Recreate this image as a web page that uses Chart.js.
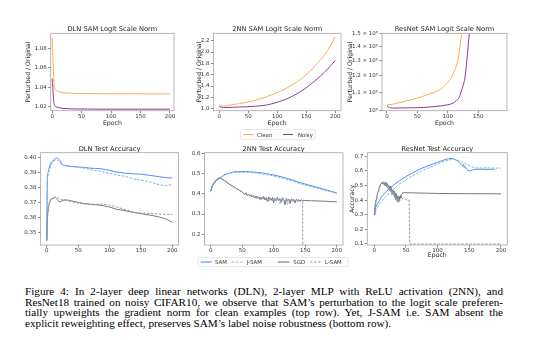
<!DOCTYPE html>
<html><head><meta charset="utf-8">
<script src="https://cdn.jsdelivr.net/npm/chart.js@4.4.1/dist/chart.umd.min.js"></script>
<style>
body{margin:0;width:540px;height:340px;background:#fff;position:relative;overflow:hidden;font-family:"DejaVu Sans",sans-serif;}
#cap{position:absolute;left:25px;top:286px;width:478px;font-family:"Liberation Serif","Times New Roman",serif;font-size:11.2px;line-height:10.5px;color:#000}
.ln{white-space:nowrap;text-align:justify;text-align-last:justify}
.ln.last{text-align-last:left}
svg text{font-family:"DejaVu Sans",sans-serif;font-size:5.4px;fill:#333;dominant-baseline:central}
</style></head><body>
<svg id="leg" style="position:absolute;left:0;top:0;z-index:2" width="540" height="340">
 <rect x="240.5" y="129.5" width="74.5" height="10" rx="1.5" fill="#fff" stroke="#dadada" stroke-width="0.6"/>
 <line x1="243.5" x2="253.5" y1="134.5" y2="134.5" stroke="#f6b24f" stroke-width="1.1"/>
 <text x="257" y="134.5">Clean</text>
 <line x1="283" x2="293" y1="134.5" y2="134.5" stroke="#8e3a9b" stroke-width="1.1"/>
 <text x="298" y="134.5">Noisy</text>
 <rect x="198" y="257.5" width="150" height="9" rx="1.5" fill="#fff" stroke="#dadada" stroke-width="0.6"/>
 <line x1="200.7" x2="211.7" y1="262" y2="262" stroke="#4f8ff0" stroke-width="1.1"/>
 <text x="215" y="262">SAM</text>
 <line x1="231.7" x2="243.3" y1="262" y2="262" stroke="#7fb0f5" stroke-width="1.1" stroke-dasharray="2.5 1.5"/>
 <text x="246.7" y="262">J-SAM</text>
 <line x1="277.7" x2="289.3" y1="262" y2="262" stroke="#6b7785" stroke-width="1.1"/>
 <text x="293.3" y="262">SGD</text>
 <line x1="310" x2="321.7" y1="262" y2="262" stroke="#959ba3" stroke-width="1.1" stroke-dasharray="2.5 1.5"/>
 <text x="325" y="262">L-SAM</text>
</svg>
<div id="cap">
<div class="ln">Figure 4: In 2-layer deep linear networks (DLN), 2-layer MLP with ReLU activation (2NN), and</div>
<div class="ln">ResNet18 trained on noisy CIFAR10, we observe that SAM’s perturbation to the logit scale preferen-</div>
<div class="ln">tially upweights the gradient norm for clean examples (top row). Yet, J-SAM i.e. SAM absent the</div>
<div class="ln last">explicit reweighting effect, preserves SAM’s label noise robustness (bottom row).</div>
</div>
<script>
// ---------- DATA ----------
// Top row: SAM logit scale norm (perturbed / original)
const dlnNormEpoch = [0,1,2,3,4,5,7,10,15,20,30,40,60,80,100,130,160,200];
const dlnNormClean = [1.091,1.075,1.058,1.046,1.040,1.0375,1.0365,1.0355,1.0348,1.0343,1.0339,1.0337,1.0335,1.0334,1.0333,1.0333,1.0332,1.0332];
const dlnNormNoisy = [1.049,1.040,1.030,1.024,1.0215,1.0205,1.0198,1.0192,1.0186,1.0182,1.0179,1.0177,1.0176,1.0175,1.0175,1.0175,1.0175,1.0175];

const nnNormEpoch = [0,3,7,15,25,35,48,60,77,90,106,120,135,150,163,175,187,200];
const nnNormClean = [1.075,1.055,1.047,1.058,1.075,1.09,1.115,1.145,1.195,1.245,1.31,1.385,1.48,1.6,1.73,1.87,2.03,2.265];
const nnNormNoisy = [1.04,1.028,1.022,1.022,1.025,1.03,1.035,1.043,1.058,1.085,1.134,1.19,1.27,1.37,1.475,1.58,1.70,1.85];

const resNormCleanEpoch = [0,10,18,30,40,50,62,70,79,86,92,100,105,109,114,118,121,123.5,126];
const resNormClean = [1.030,1.035,1.041,1.05,1.059,1.068,1.082,1.092,1.103,1.115,1.13,1.16,1.183,1.215,1.265,1.341,1.439,1.52,1.6];
const resNormNoisyEpoch = [0,3,6,15,30,45,60,75,90,100,109,114,118,122,125,128,130.5,133,135.5,137];
const resNormNoisy = [1.025,1.018,1.015,1.014,1.0145,1.0155,1.017,1.021,1.026,1.032,1.041,1.055,1.069,1.107,1.14,1.187,1.272,1.389,1.52,1.6];

// Bottom row: test accuracy
const dlnAccEpoch = [0,1,2,3,5,7,10,13,15,18,21,25,30,40,50,60,70,85,100,111,125,138,150,165,180,191,200];
const dlnSAM  = [0.345,0.387,0.390,0.392,0.395,0.397,0.398,0.3992,0.3998,0.3995,0.398,0.3955,0.3948,0.3942,0.3938,0.3935,0.393,0.3927,0.3915,0.3905,0.3897,0.3893,0.389,0.3882,0.3873,0.3867,0.3865];
const dlnJSAM = [0.345,0.384,0.388,0.390,0.393,0.395,0.397,0.3982,0.3985,0.398,0.3965,0.395,0.3945,0.394,0.3935,0.393,0.392,0.391,0.3895,0.3885,0.3875,0.386,0.3852,0.3838,0.382,0.3815,0.3822];
const dlnSGD  = [0.345,0.360,0.365,0.368,0.371,0.3725,0.373,0.3738,0.373,0.3715,0.3706,0.3715,0.372,0.3712,0.3703,0.3695,0.369,0.3684,0.3672,0.3658,0.3648,0.3636,0.3628,0.3618,0.3605,0.359,0.357];
const dlnLSAM = [0.345,0.358,0.363,0.367,0.370,0.3718,0.3728,0.3735,0.3738,0.3732,0.3722,0.372,0.3718,0.3708,0.3698,0.3692,0.369,0.3692,0.3685,0.3673,0.3655,0.364,0.3632,0.363,0.3625,0.3623,0.3624];

const nnSamEpoch = [0,2,4,7,10,14,18,23,30,36,45,55,62,75,89,100,115,130,142,155,168,180,190,200];
const nnSAM  = [0.414,0.432,0.447,0.46,0.468,0.478,0.487,0.497,0.504,0.509,0.511,0.511,0.51,0.507,0.50,0.494,0.483,0.469,0.456,0.445,0.434,0.423,0.414,0.405];
const nnJSAM = [0.414,0.430,0.445,0.458,0.467,0.477,0.486,0.495,0.502,0.506,0.508,0.508,0.507,0.503,0.496,0.489,0.477,0.463,0.451,0.440,0.429,0.419,0.411,0.402];
const nnSgdEpoch = [0,2,4,6,8,10,12,15,18,22,26,30,35,40,45,50,52,54,56,58,60,62,64,66,68,70,72,74,76,78,80,82,84,86,88,90,92,94,96,98,100,102,104,106,108,110,112,114,116,118,120,122,124,126,128,130,132,134,136,138,140,142,144,146,150,160,170,180,190,200];
const nnSGD = [0.414,0.435,0.45,0.46,0.468,0.474,0.478,0.479,0.474,0.466,0.457,0.448,0.439,0.428,0.42,0.41,
  0.402,0.396,0.405,0.393,0.399,0.388,0.396,0.385,0.392,0.381,0.390,0.378,0.386,0.372,0.384,0.376,0.388,0.370,0.382,0.362,0.385,0.374,0.368,0.383,0.356,0.378,0.371,0.384,0.366,0.376,0.358,0.381,0.37,0.345,0.378,0.367,0.374,0.352,0.376,0.368,0.372,0.355,0.373,0.368,0.371,0.362,0.37,0.366,
  0.367,0.366,0.365,0.364,0.362,0.361];
const nnLsamEpoch = [0,2,4,6,8,10,12,15,18,22,26,30,35,40,45,50,52,54,56,58,60,62,64,66,68,70,72,74,76,78,80,82,84,86,88,90,92,94,96,98,100,102,104,106,108,110,112,114,116,118,120,122,124,126,128,130,132,134,136,138,140,142,144,146,146];
const nnLSAM = [0.414,0.434,0.449,0.459,0.467,0.473,0.477,0.478,0.473,0.465,0.456,0.447,0.437,0.427,0.418,0.409,
  0.404,0.398,0.401,0.390,0.397,0.392,0.384,0.394,0.383,0.389,0.376,0.388,0.379,0.384,0.368,0.386,0.375,0.381,0.372,0.378,0.360,0.382,0.376,0.366,0.379,0.37,0.36,0.377,0.372,0.352,0.374,0.366,0.376,0.362,0.371,0.348,0.372,0.366,0.37,0.358,0.373,0.366,0.37,0.36,0.372,0.367,0.369,0.366,0.10];

const resSamEpoch = [0,1,2,4,7,12,18,25,31,38,45,52,64,77,91,104,112,117,121,126,131,135,138,140,141,142,144,146,148,151,155,159,170,180,190];
const resSAM = [0.30,0.33,0.35,0.368,0.39,0.425,0.455,0.482,0.505,0.527,0.548,0.567,0.595,0.622,0.645,0.666,0.678,0.683,0.686,0.682,0.67,0.655,0.64,0.632,0.645,0.625,0.628,0.61,0.603,0.6,0.607,0.611,0.612,0.611,0.612];
const resJsamEpoch = [0,1,3,6,10,15,20,25,32,38,45,52,64,77,91,104,112,117,121,125,130,135,140,145,150,155,160,165,175,190,200];
const resJSAM = [0.30,0.315,0.335,0.36,0.385,0.41,0.43,0.455,0.48,0.505,0.525,0.545,0.575,0.605,0.63,0.655,0.668,0.674,0.678,0.68,0.676,0.667,0.656,0.646,0.636,0.627,0.621,0.62,0.621,0.62,0.619];
const resSgdEpoch = [0,1,2,3,4,5,6,7,8,9,10,11,12,13,14,15,16,17,18,19,20,21,22,23,24,25,26,27,28,29,30,31,32,33,34,35,36,37,38,39,40,41,42,43,44,45,46,48,50,60,80,100,120,150,175,200];
const resSGD = [0.30,0.35,0.38,0.405,0.42,0.445,0.46,0.475,0.49,0.50,0.51,0.515,0.52,0.51,0.525,0.515,0.505,0.52,0.50,0.515,0.49,0.51,0.485,0.50,0.47,0.495,0.465,0.48,0.445,0.47,0.44,0.465,0.425,0.45,0.41,0.44,0.405,0.43,0.39,0.425,0.40,0.43,0.415,0.44,0.445,0.452,0.45,0.452,0.451,0.45,0.448,0.446,0.445,0.444,0.444,0.443];
const resLsamEpoch = [0,1,2,3,4,5,6,7,8,9,10,11,12,13,14,15,16,17,18,19,20,21,22,23,24,25,26,27,28,29,30,31,32,33,34,35,36,37,38,39,40,42,44,46,48,50,52,54,55,56,100,150,200];
const resLSAM = [0.30,0.34,0.37,0.40,0.415,0.44,0.455,0.47,0.485,0.495,0.505,0.51,0.515,0.52,0.51,0.525,0.50,0.515,0.495,0.52,0.485,0.505,0.475,0.495,0.46,0.485,0.455,0.47,0.435,0.465,0.43,0.455,0.415,0.445,0.40,0.43,0.385,0.42,0.38,0.41,0.395,0.405,0.41,0.415,0.41,0.405,0.40,0.40,0.40,0.10,0.10,0.10,0.10];

// Tick values
const epochTicks = [0,50,100,150,200];
const resNormXTicks = [0,50,100,150];
const dlnNormYTicks = [1.02,1.04,1.06,1.08];
const nnNormYTicks = [1.0,1.2,1.4,1.6,1.8,2.0,2.2];
const resNormYTicks = [1.0,1.1,1.2,1.3,1.4,1.5];
const dlnAccYTicks = [0.35,0.36,0.37,0.38,0.39,0.40];
const nnAccYTicks = [0.2,0.3,0.4,0.5,0.6];
const resAccYTicks = [0.1,0.2,0.3,0.4,0.5,0.6,0.7];

// Colors
const C_CLEAN='#f6b24f', C_NOISY='#8e3a9b', C_SAM='#4f8ff0', C_JSAM='#7fb0f5', C_SGD='#6b7785', C_LSAM='#959ba3';

// ---------- DRAWING ----------
const FONT='"DejaVu Sans", sans-serif';
const SPINE='#a6a6a6', TK='#333';
const pts=(xs,ys)=>xs.map((x,i)=>({x:x,y:ys[i]}));
const line=(label,xs,ys,color,dash,smooth,i)=>({label,data:pts(xs,ys),borderColor:color,borderWidth:1,borderDash:dash?[2.5,1.5]:[],
  pointRadius:0,fill:false,tension:0,cubicInterpolationMode:smooth?'monotone':'default',order:-i});

const frame={id:'frame',afterDatasetsDraw(c){const a=c.chartArea,x=c.ctx;x.save();x.strokeStyle=SPINE;x.lineWidth=0.8;
  x.strokeRect(a.left,a.top,a.right-a.left,a.bottom-a.top);x.restore();}};

function panel(p){
  const cv=document.createElement('canvas');
  const W=p.cr-p.cl,H=p.cb-p.ct;
  cv.width=W;cv.height=H;
  cv.style.cssText=`position:absolute;left:${p.cl}px;top:${p.ct}px;width:${W}px;height:${H}px`;
  document.body.appendChild(cv);
  const yw=p.l-p.cl,xh=p.cb-p.b,rp=p.cr-p.r,tb=p.t-p.ct;
  const TS=6.7;
  const tickFont={family:FONT,size:5.5,lineHeight:1};
  const grid={display:true,drawOnChartArea:false,drawTicks:true,tickLength:2.5,color:'#555',lineWidth:0.7};
  new Chart(cv,{type:'line',data:{datasets:p.datasets},options:{
    responsive:false,animation:false,devicePixelRatio:1,
    layout:{padding:{left:0,right:rp,top:0,bottom:0}},
    plugins:{legend:{display:false},tooltip:{enabled:false},
      title:{display:true,text:p.title,fullSize:false,color:'#222',font:{family:FONT,size:TS,lineHeight:1,weight:'normal'},padding:{top:0,bottom:Math.max(0,tb-TS)}}},
    scales:{
      x:{type:'linear',min:p.xmin,max:p.xmax,
        afterFit(s){s.height=xh;},
        afterBuildTicks(s){s.ticks=p.xticks.map(v=>({value:v}));},
        ticks:{font:tickFont,color:TK,padding:p.xpad,maxRotation:0,autoSkip:false,callback:v=>String(v)},
        grid:grid,border:{display:false},
        title:{display:!!p.xlabel,text:p.xlabel||'',color:'#222',font:{family:FONT,size:6.2,lineHeight:1},padding:{top:0,bottom:p.xlpad||0}}},
      y:{type:p.ylog?'logarithmic':'linear',min:p.ymin,max:p.ymax,
        afterFit(s){s.width=yw;},
        afterBuildTicks(s){s.ticks=p.yticks.map(v=>({value:v}));},
        ticks:{font:tickFont,color:TK,padding:1.5,autoSkip:false,callback:p.yfmt},
        grid:grid,border:{display:false},
        title:{display:!!p.ylabel,text:p.ylabel||'',color:'#222',font:{family:FONT,size:6.2,lineHeight:1},padding:{top:p.ylpad||0,bottom:0}}}
    }},plugins:[frame]});
}
const f2=v=>v.toFixed(2), f1=v=>v.toFixed(1);
const flog=v=>Math.abs(v-1)<1e-9?'10⁰':v.toFixed(1)+' × 10⁰';

// Top row
panel({cl:25,ct:26,cr:178,cb:127,l:50.7,t:33.3,r:174,b:110.7,xmin:-2.5,xmax:207,ymin:1.0159,ymax:1.0955,
  title:'DLN SAM Logit Scale Norm',xlabel:'Epoch',ylabel:'Perturbed / Original',xlpad:0.6,ylpad:0.2,xpad:1,
  xticks:epochTicks,yticks:dlnNormYTicks,yfmt:f2,
  datasets:[line('Clean',dlnNormEpoch,dlnNormClean,C_CLEAN,false,true,0),line('Noisy',dlnNormEpoch,dlnNormNoisy,C_NOISY,false,true,1)]});
panel({cl:195,ct:26,cr:345,cb:127,l:213.5,t:33.3,r:341,b:110.7,xmin:-10,xmax:210,ymin:0.965,ymax:2.33,
  title:'2NN SAM Logit Scale Norm',xlabel:'Epoch',ylabel:'Perturbed / Original',xlpad:0.6,ylpad:0.9,xpad:1,
  xticks:epochTicks,yticks:nnNormYTicks,yfmt:f1,
  datasets:[line('Clean',nnNormEpoch,nnNormClean,C_CLEAN,false,true,0),line('Noisy',nnNormEpoch,nnNormNoisy,C_NOISY,false,true,1)]});
panel({cl:347,ct:26,cr:511,cb:127,l:382,t:33.3,r:507,b:110.7,xmin:-8,xmax:197,ymin:1,ymax:1.5,ylog:true,
  title:'ResNet SAM Logit Scale Norm',xlabel:'Epoch',ylabel:'Perturbed / Original',xlpad:0.6,ylpad:0,xpad:1,
  xticks:resNormXTicks,yticks:resNormYTicks,yfmt:flog,
  datasets:[line('Clean',resNormCleanEpoch,resNormClean,C_CLEAN,false,true,0),line('Noisy',resNormNoisyEpoch,resNormNoisy,C_NOISY,false,true,1)]});

// Bottom row
panel({cl:10,ct:146,cr:182,cb:256,l:40.5,t:152.7,r:178.6,b:245,xmin:-10,xmax:210,ymin:0.342,ymax:0.4033,
  title:'DLN Test Accuracy',xpad:0,xticks:epochTicks,yticks:dlnAccYTicks,yfmt:f2,
  datasets:[line('SAM',dlnAccEpoch,dlnSAM,C_SAM,false,true,0),line('J-SAM',dlnAccEpoch,dlnJSAM,C_JSAM,true,true,1),
    line('SGD',dlnAccEpoch,dlnSGD,C_SGD,false,true,2),line('L-SAM',dlnAccEpoch,dlnLSAM,C_LSAM,true,true,3)]});
panel({cl:180,ct:146,cr:347,cb:256,l:204.4,t:152.7,r:343,b:245,xmin:-10,xmax:210,ymin:0.146,ymax:0.605,
  title:'2NN Test Accuracy',xpad:0,xticks:epochTicks,yticks:nnAccYTicks,yfmt:f1,
  datasets:[line('SAM',nnSamEpoch,nnSAM,C_SAM,false,true,0),line('J-SAM',nnSamEpoch,nnJSAM,C_JSAM,true,true,1),
    line('SGD',nnSgdEpoch,nnSGD,C_SGD,false,false,2),line('L-SAM',nnLsamEpoch,nnLSAM,C_LSAM,true,false,3)]});
panel({cl:349,ct:146,cr:511,cb:259,l:367.3,t:152.7,r:507.3,b:245,xmin:-11,xmax:210,ymin:0.093,ymax:0.725,
  title:'ResNet Test Accuracy',xlabel:'Epoch',ylabel:'Accuracy',xlpad:0.2,ylpad:0.3,xpad:0,
  xticks:epochTicks,yticks:resAccYTicks,yfmt:f1,
  datasets:[line('SAM',resSamEpoch,resSAM,C_SAM,false,false,0),line('J-SAM',resJsamEpoch,resJSAM,C_JSAM,true,false,1),
    line('SGD',resSgdEpoch,resSGD,C_SGD,false,false,2),line('L-SAM',resLsamEpoch,resLSAM,C_LSAM,true,false,3)]});
</script>
</body></html>
